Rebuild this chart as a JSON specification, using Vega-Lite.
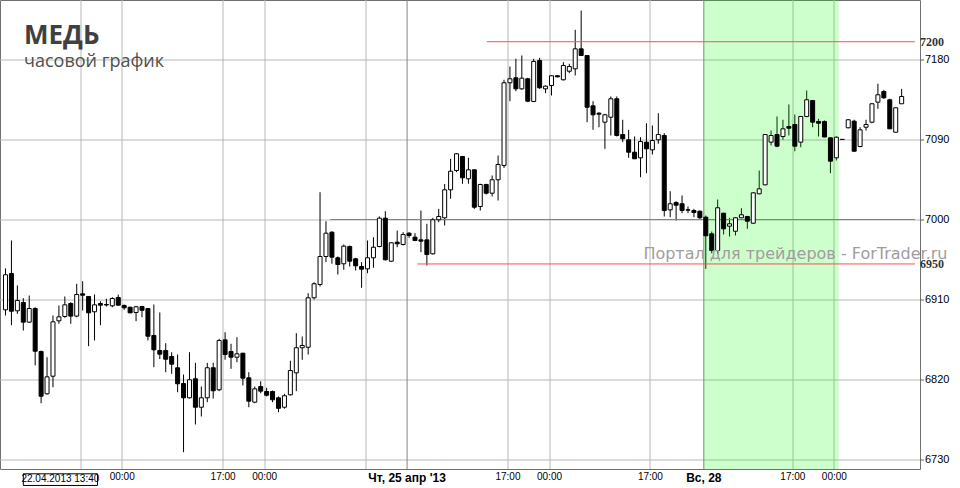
{
  "$schema": "https://vega.github.io/schema/vega-lite/v6.json",
  "width": 920,
  "height": 469,
  "autosize": {"type": "none"},
  "padding": {"left": 0, "top": 0, "right": 40, "bottom": 19},
  "background": "#ffffff",
  "config": {"view": {"stroke": "#707070", "strokeWidth": 1}, "font": "Liberation Sans"},
  "title": {
    "text": "МЕДЬ",
    "subtitle": "часовой график",
    "anchor": "start",
    "frame": "group",
    "orient": "top",
    "offset": -71,
    "dx": 24,
    "subtitlePadding": 4,
    "font": "Open Sans",
    "fontSize": 26,
    "fontWeight": "bold",
    "color": "#404040",
    "subtitleFont": "Open Sans",
    "subtitleFontSize": 18,
    "subtitleFontWeight": "normal",
    "subtitleColor": "#505050"
  },
  "datasets": {
    "session": [{"from": 116.667, "to": 139.4}],
    "days": [
      {"pos": 66.667, "label": "Чт, 25 апр '13"},
      {"pos": 116.667, "label": "Вс, 28"}
    ],
    "levels": [
      {"level": 7200, "from": 80.1},
      {"level": 7000, "from": 53.7},
      {"level": 6950, "from": 68.4}
    ],
    "candles": [
      {"i": -1, "o": 6898.4, "h": 6945, "l": 6892, "c": 6937.8},
      {"i": 0, "o": 6939.3, "h": 6976.4, "l": 6881.1, "c": 6896.8},
      {"i": 1, "o": 6897.3, "h": 6925.8, "l": 6893.9, "c": 6908.9},
      {"i": 2, "o": 6906.6, "h": 6911.5, "l": 6875.1, "c": 6884.5},
      {"i": 3, "o": 6884.5, "h": 6914.5, "l": 6884.0, "c": 6899.9},
      {"i": 4, "o": 6899.9, "h": 6901.3, "l": 6835.8, "c": 6851.8},
      {"i": 5, "o": 6851.5, "h": 6852.6, "l": 6793.3, "c": 6801.2},
      {"i": 6, "o": 6803.9, "h": 6845.1, "l": 6803.0, "c": 6823.0},
      {"i": 7, "o": 6823.7, "h": 6892.0, "l": 6811.3, "c": 6884.9},
      {"i": 8, "o": 6886.0, "h": 6903.3, "l": 6882.7, "c": 6890.5},
      {"i": 9, "o": 6890.9, "h": 6913.4, "l": 6889.4, "c": 6904.0},
      {"i": 10, "o": 6905.5, "h": 6907.0, "l": 6882.7, "c": 6891.3},
      {"i": 11, "o": 6891.3, "h": 6927.7, "l": 6890.0, "c": 6915.6},
      {"i": 12, "o": 6916.4, "h": 6930.6, "l": 6897.6, "c": 6914.8},
      {"i": 13, "o": 6913.4, "h": 6913.8, "l": 6857.5, "c": 6895.0},
      {"i": 14, "o": 6896.2, "h": 6915.6, "l": 6863.9, "c": 6904.0},
      {"i": 15, "o": 6905.5, "h": 6908.0, "l": 6881.1, "c": 6903.6},
      {"i": 16, "o": 6904.4, "h": 6910.8, "l": 6902.1, "c": 6903.8},
      {"i": 17, "o": 6902.9, "h": 6912.6, "l": 6901.3, "c": 6911.1},
      {"i": 18, "o": 6912.3, "h": 6915.6, "l": 6903.3, "c": 6903.6},
      {"i": 19, "o": 6903.3, "h": 6904.4, "l": 6898.4, "c": 6900.7},
      {"i": 20, "o": 6901.3, "h": 6901.8, "l": 6894.6, "c": 6895.0},
      {"i": 21, "o": 6895.4, "h": 6902.9, "l": 6885.6, "c": 6901.8},
      {"i": 22, "o": 6902.1, "h": 6902.9, "l": 6890.0, "c": 6897.9},
      {"i": 23, "o": 6899.9, "h": 6900.2, "l": 6863.9, "c": 6868.7},
      {"i": 24, "o": 6869.5, "h": 6904.4, "l": 6833.8, "c": 6853.4},
      {"i": 25, "o": 6852.6, "h": 6895.4, "l": 6843.0, "c": 6848.5},
      {"i": 26, "o": 6852.6, "h": 6860.8, "l": 6828.2, "c": 6842.8},
      {"i": 27, "o": 6845.9, "h": 6850.7, "l": 6826.4, "c": 6837.2},
      {"i": 28, "o": 6833.2, "h": 6848.1, "l": 6805.7, "c": 6815.2},
      {"i": 29, "o": 6815.5, "h": 6825.6, "l": 6738.2, "c": 6799.4},
      {"i": 30, "o": 6799.4, "h": 6850.7, "l": 6798.6, "c": 6819.7},
      {"i": 31, "o": 6820.8, "h": 6838.8, "l": 6769.4, "c": 6788.8},
      {"i": 32, "o": 6788.8, "h": 6812.1, "l": 6778.4, "c": 6799.4},
      {"i": 33, "o": 6799.4, "h": 6838.8, "l": 6794.5, "c": 6833.2},
      {"i": 34, "o": 6833.2, "h": 6838.8, "l": 6798.6, "c": 6807.3},
      {"i": 35, "o": 6808.4, "h": 6865.8, "l": 6806.9, "c": 6863.9},
      {"i": 36, "o": 6864.6, "h": 6873.2, "l": 6842.2, "c": 6848.1},
      {"i": 37, "o": 6851.5, "h": 6860.2, "l": 6832.0, "c": 6845.1},
      {"i": 38, "o": 6845.1, "h": 6867.6, "l": 6839.5, "c": 6848.9},
      {"i": 39, "o": 6849.6, "h": 6849.9, "l": 6813.3, "c": 6821.5},
      {"i": 40, "o": 6821.9, "h": 6828.2, "l": 6788.8, "c": 6795.6},
      {"i": 41, "o": 6794.5, "h": 6812.1, "l": 6793.3, "c": 6809.5},
      {"i": 42, "o": 6812.1, "h": 6818.0, "l": 6804.6, "c": 6806.9},
      {"i": 43, "o": 6806.5, "h": 6810.6, "l": 6800.9, "c": 6802.3},
      {"i": 44, "o": 6806.5, "h": 6807.6, "l": 6794.5, "c": 6797.2},
      {"i": 45, "o": 6799.4, "h": 6800.9, "l": 6783.2, "c": 6787.6},
      {"i": 46, "o": 6788.8, "h": 6803.9, "l": 6787.1, "c": 6801.7},
      {"i": 47, "o": 6802.8, "h": 6841.1, "l": 6802.0, "c": 6830.1},
      {"i": 48, "o": 6827.5, "h": 6872.1, "l": 6806.9, "c": 6855.7},
      {"i": 49, "o": 6855.7, "h": 6868.4, "l": 6842.2, "c": 6858.3},
      {"i": 50, "o": 6856.3, "h": 6917.1, "l": 6848.1, "c": 6911.9},
      {"i": 51, "o": 6911.9, "h": 6929.5, "l": 6910.0, "c": 6927.7},
      {"i": 52, "o": 6926.9, "h": 7030.7, "l": 6924.6, "c": 6958.4},
      {"i": 53, "o": 6958.4, "h": 6998.1, "l": 6952.0, "c": 6984.6},
      {"i": 54, "o": 6985.7, "h": 6986.8, "l": 6950.2, "c": 6957.6},
      {"i": 55, "o": 6956.9, "h": 6958.4, "l": 6938.1, "c": 6949.4},
      {"i": 56, "o": 6950.2, "h": 6971.9, "l": 6943.4, "c": 6970.0},
      {"i": 57, "o": 6969.6, "h": 6970.8, "l": 6947.1, "c": 6953.1},
      {"i": 58, "o": 6955.8, "h": 6956.9, "l": 6942.6, "c": 6947.9},
      {"i": 59, "o": 6947.1, "h": 6952.0, "l": 6923.2, "c": 6944.1},
      {"i": 60, "o": 6944.5, "h": 6976.4, "l": 6939.6, "c": 6956.9},
      {"i": 61, "o": 6956.9, "h": 6980.1, "l": 6945.7, "c": 6968.8},
      {"i": 62, "o": 6969.6, "h": 7003.4, "l": 6968.8, "c": 7001.5},
      {"i": 63, "o": 7001.5, "h": 7009.3, "l": 6953.9, "c": 6954.7},
      {"i": 64, "o": 6953.1, "h": 6974.5, "l": 6952.5, "c": 6973.8},
      {"i": 65, "o": 6974.5, "h": 6987.6, "l": 6968.8, "c": 6972.7},
      {"i": 66, "o": 6971.9, "h": 6985.7, "l": 6970.8, "c": 6983.1},
      {"i": 67, "o": 6984.6, "h": 6985.7, "l": 6979.4, "c": 6982.0},
      {"i": 68, "o": 6980.1, "h": 6984.6, "l": 6975.6, "c": 6976.4},
      {"i": 69, "o": 6977.1, "h": 7010.1, "l": 6963.2, "c": 6975.6},
      {"i": 70, "o": 6977.1, "h": 6995.2, "l": 6948.3, "c": 6960.6},
      {"i": 71, "o": 6961.4, "h": 7001.9, "l": 6960.6, "c": 6999.7},
      {"i": 72, "o": 6999.7, "h": 7012.0, "l": 6997.0, "c": 7003.4},
      {"i": 73, "o": 7001.9, "h": 7040.0, "l": 6993.3, "c": 7033.4},
      {"i": 74, "o": 7033.4, "h": 7068.3, "l": 7023.3, "c": 7054.3},
      {"i": 75, "o": 7055.1, "h": 7074.6, "l": 7053.2, "c": 7073.9},
      {"i": 76, "o": 7070.9, "h": 7071.5, "l": 7040.2, "c": 7046.9},
      {"i": 77, "o": 7045.8, "h": 7069.4, "l": 7040.2, "c": 7055.9},
      {"i": 78, "o": 7055.9, "h": 7056.5, "l": 7012.0, "c": 7013.8},
      {"i": 79, "o": 7014.6, "h": 7040.2, "l": 7010.1, "c": 7039.4},
      {"i": 80, "o": 7039.4, "h": 7040.2, "l": 7028.1, "c": 7029.6},
      {"i": 81, "o": 7029.6, "h": 7049.5, "l": 7025.9, "c": 7044.7},
      {"i": 82, "o": 7044.7, "h": 7072.0, "l": 7021.4, "c": 7061.9},
      {"i": 83, "o": 7060.8, "h": 7157.2, "l": 7058.0, "c": 7153.8},
      {"i": 84, "o": 7153.8, "h": 7172.1, "l": 7133.1, "c": 7158.3},
      {"i": 85, "o": 7159.4, "h": 7180.8, "l": 7144.3, "c": 7147.0},
      {"i": 86, "o": 7147.0, "h": 7184.5, "l": 7145.9, "c": 7159.0},
      {"i": 87, "o": 7158.3, "h": 7159.4, "l": 7132.0, "c": 7133.1},
      {"i": 88, "o": 7132.8, "h": 7180.8, "l": 7132.0, "c": 7177.8},
      {"i": 89, "o": 7178.9, "h": 7181.9, "l": 7147.0, "c": 7148.2},
      {"i": 90, "o": 7147.0, "h": 7150.8, "l": 7142.1, "c": 7150.0},
      {"i": 91, "o": 7150.8, "h": 7162.0, "l": 7139.5, "c": 7161.7},
      {"i": 92, "o": 7161.7, "h": 7162.2, "l": 7160.0, "c": 7160.5},
      {"i": 93, "o": 7157.2, "h": 7177.0, "l": 7156.4, "c": 7173.3},
      {"i": 94, "o": 7166.8, "h": 7175.2, "l": 7164.6, "c": 7172.1},
      {"i": 95, "o": 7169.5, "h": 7213.4, "l": 7162.0, "c": 7192.0},
      {"i": 96, "o": 7192.0, "h": 7235.1, "l": 7184.0, "c": 7184.5},
      {"i": 97, "o": 7184.5, "h": 7185.0, "l": 7109.5, "c": 7126.3},
      {"i": 98, "o": 7127.9, "h": 7133.1, "l": 7100.9, "c": 7117.8},
      {"i": 99, "o": 7119.6, "h": 7120.7, "l": 7103.8, "c": 7118.5},
      {"i": 100, "o": 7109.5, "h": 7118.9, "l": 7079.5, "c": 7117.8},
      {"i": 101, "o": 7115.1, "h": 7138.4, "l": 7094.5, "c": 7135.8},
      {"i": 102, "o": 7135.8, "h": 7138.4, "l": 7093.4, "c": 7094.5},
      {"i": 103, "o": 7095.6, "h": 7112.2, "l": 7087.0, "c": 7090.8},
      {"i": 104, "o": 7089.7, "h": 7100.9, "l": 7069.4, "c": 7075.7},
      {"i": 105, "o": 7075.7, "h": 7093.4, "l": 7068.0, "c": 7068.3},
      {"i": 106, "o": 7069.4, "h": 7092.6, "l": 7047.6, "c": 7087.8},
      {"i": 107, "o": 7087.0, "h": 7108.3, "l": 7052.1, "c": 7079.5},
      {"i": 108, "o": 7078.4, "h": 7105.8, "l": 7073.1, "c": 7088.9},
      {"i": 109, "o": 7089.7, "h": 7119.6, "l": 7085.2, "c": 7095.6},
      {"i": 110, "o": 7094.5, "h": 7097.1, "l": 7003.4, "c": 7010.1},
      {"i": 111, "o": 7010.9, "h": 7031.8, "l": 7002.6, "c": 7017.7},
      {"i": 112, "o": 7019.1, "h": 7020.6, "l": 6998.9, "c": 7016.1},
      {"i": 113, "o": 7017.7, "h": 7027.0, "l": 7007.1, "c": 7010.1},
      {"i": 114, "o": 7010.9, "h": 7014.6, "l": 7007.1, "c": 7010.5},
      {"i": 115, "o": 7010.1, "h": 7012.0, "l": 7002.6, "c": 7007.9},
      {"i": 116, "o": 7009.3, "h": 7010.1, "l": 7000.8, "c": 7001.9},
      {"i": 117, "o": 7002.6, "h": 7004.5, "l": 6944.5, "c": 6981.7},
      {"i": 118, "o": 6983.9, "h": 6986.5, "l": 6962.0, "c": 6965.1},
      {"i": 119, "o": 6965.1, "h": 7022.5, "l": 6961.4, "c": 7013.2},
      {"i": 120, "o": 7007.1, "h": 7007.5, "l": 6983.1, "c": 6989.5},
      {"i": 121, "o": 6992.5, "h": 7001.9, "l": 6980.9, "c": 6995.2},
      {"i": 122, "o": 6986.8, "h": 7002.6, "l": 6982.0, "c": 7001.9},
      {"i": 123, "o": 7001.9, "h": 7012.7, "l": 7001.5, "c": 7005.3},
      {"i": 124, "o": 7003.4, "h": 7004.1, "l": 6989.5, "c": 6998.1},
      {"i": 125, "o": 6995.8, "h": 7030.7, "l": 6995.2, "c": 7030.0},
      {"i": 126, "o": 7028.9, "h": 7055.1, "l": 7028.5, "c": 7034.5},
      {"i": 127, "o": 7039.0, "h": 7095.8, "l": 7038.5, "c": 7095.6},
      {"i": 128, "o": 7087.0, "h": 7100.1, "l": 7083.3, "c": 7094.5},
      {"i": 129, "o": 7095.6, "h": 7115.9, "l": 7081.3, "c": 7082.5},
      {"i": 130, "o": 7093.4, "h": 7112.2, "l": 7089.7, "c": 7102.0},
      {"i": 131, "o": 7104.6, "h": 7129.4, "l": 7094.5, "c": 7102.7},
      {"i": 132, "o": 7106.9, "h": 7118.1, "l": 7076.8, "c": 7082.5},
      {"i": 133, "o": 7087.0, "h": 7116.2, "l": 7081.3, "c": 7115.9},
      {"i": 134, "o": 7115.9, "h": 7145.1, "l": 7115.1, "c": 7134.7},
      {"i": 135, "o": 7133.9, "h": 7134.3, "l": 7103.8, "c": 7109.5},
      {"i": 136, "o": 7110.3, "h": 7113.3, "l": 7093.4, "c": 7108.3},
      {"i": 137, "o": 7110.3, "h": 7111.4, "l": 7092.6, "c": 7092.8},
      {"i": 138, "o": 7091.9, "h": 7092.6, "l": 7052.1, "c": 7065.6},
      {"i": 139, "o": 7069.4, "h": 7093.4, "l": 7066.4, "c": 7092.6},
      {"i": 140, "o": 7090.0, "h": 7090.4, "l": 7089.6, "c": 7090.2},
      {"i": 141, "o": 7103.2, "h": 7113.0, "l": 7102.5, "c": 7112.2},
      {"i": 142, "o": 7110.6, "h": 7112.2, "l": 7076.5, "c": 7076.8},
      {"i": 143, "o": 7082.1, "h": 7103.8, "l": 7081.3, "c": 7100.9},
      {"i": 144, "o": 7103.8, "h": 7112.2, "l": 7100.1, "c": 7106.9},
      {"i": 145, "o": 7109.5, "h": 7130.8, "l": 7108.3, "c": 7130.2},
      {"i": 146, "o": 7132.0, "h": 7152.7, "l": 7124.5, "c": 7140.3},
      {"i": 147, "o": 7144.0, "h": 7145.9, "l": 7135.8, "c": 7136.9},
      {"i": 148, "o": 7134.7, "h": 7135.8, "l": 7102.0, "c": 7102.0},
      {"i": 149, "o": 7098.2, "h": 7125.7, "l": 7098.2, "c": 7125.7},
      {"i": 150, "o": 7130.2, "h": 7147.0, "l": 7130.2, "c": 7138.4}
    ]
  },
  "layer": [
    {
      "data": {"name": "candles"},
      "mark": {"type": "rule", "color": "#000000", "strokeWidth": 1},
      "encoding": {
        "x": {
          "field": "i", "type": "quantitative",
          "scale": {"domain": [-1.0833, 152.25], "nice": false, "zero": false},
          "axis": {
            "title": null,
            "orient": "bottom",
            "values": [11.667, 18.667, 35.667, 42.667, 59.667, 83.667, 90.667, 107.667, 131.667, 138.667],
            "domain": false,
            "ticks": false,
            "translate": 0,
            "grid": true,
            "gridColor": "#b8b8b8",
            "labelPadding": 3,
            "labelOverlap": false,
            "labelFlush": false,
            "labelFont": "Liberation Sans",
            "labelFontSize": 10,
            "labelColor": "#000000",
            "labelExpr": "(datum.value < 12 || (datum.value > 59 && datum.value < 60)) ? '' : (datum.value < 19 || (datum.value > 42 && datum.value < 43) || (datum.value > 90 && datum.value < 91) || datum.value > 138) ? '00:00' : '17:00'"
          }
        },
        "y": {
          "field": "l", "type": "quantitative",
          "scale": {"domain": [6719.3125, 7246.9375], "nice": false, "zero": false},
          "axis": {
            "title": null,
            "orient": "right",
            "values": [6730, 6820, 6910, 7000, 7090, 7180],
            "format": "d",
            "domain": false,
            "translate": 0,
            "grid": true,
            "gridColor": "#b8b8b8",
            "tickSize": 4,
            "tickColor": "#606060",
            "labelPadding": 1,
            "labelOverlap": false,
            "labelFlush": false,
            "labelBaseline": "middle",
            "labelFont": "Liberation Sans",
            "labelFontSize": 11,
            "labelColor": "#000000"
          }
        },
        "y2": {"field": "h"}
      }
    },
    {
      "data": {"name": "days"},
      "mark": {"type": "rule", "color": "#848484", "strokeWidth": 1},
      "encoding": {
        "x": {"field": "pos", "type": "quantitative"}
      }
    },
    {
      "data": {"name": "session"},
      "mark": {"type": "rect", "fill": "#00ff00", "opacity": 0.2},
      "encoding": {
        "x": {"field": "from", "type": "quantitative"},
        "x2": {"field": "to"}
      }
    },
    {
      "data": {"name": "levels"},
      "mark": {"type": "rule", "color": "#ff4d4d", "strokeWidth": 1},
      "encoding": {
        "x": {"field": "from", "type": "quantitative"},
        "x2": {"datum": 152.25},
        "y": {"field": "level", "type": "quantitative"}
      }
    },
    {
      "data": {"name": "candles"},
      "mark": {"type": "bar", "size": 4, "stroke": "#000000", "strokeWidth": 1},
      "encoding": {
        "x": {"field": "i", "type": "quantitative"},
        "y": {"field": "o", "type": "quantitative"},
        "y2": {"field": "c"},
        "fill": {"condition": {"test": "datum.c < datum.o", "value": "#000000"}, "value": "#ffffff"}
      }
    },
    {
      "data": {"name": "levels"},
      "transform": [{"filter": "datum.level != 7000"}],
      "mark": {"type": "text", "font": "Liberation Serif", "fontWeight": "bold", "fontSize": 12, "fill": "#333333", "align": "left", "baseline": "middle", "dx": 5},
      "encoding": {
        "text": {"field": "level", "type": "quantitative", "format": "d"},
        "x": {"datum": 152.25, "type": "quantitative"},
        "y": {"field": "level", "type": "quantitative"}
      }
    },
    {
      "data": {"name": "days"},
      "mark": {"type": "text", "font": "Liberation Sans", "fontWeight": "bold", "fontSize": 12, "fill": "#000000", "align": "center", "baseline": "middle"},
      "encoding": {
        "text": {"field": "label"},
        "x": {"field": "pos", "type": "quantitative"},
        "y": {"datum": 6709.4, "type": "quantitative"}
      }
    },
    {
      "data": {"values": [{"label": "22.04.2013 13:40"}]},
      "mark": {"type": "rect", "fillOpacity": 0, "stroke": "#000000", "strokeWidth": 1},
      "encoding": {
        "x": {"datum": 2.0, "type": "quantitative"},
        "x2": {"datum": 14.5},
        "y": {"datum": 6713.9, "type": "quantitative"},
        "y2": {"datum": 6700.8}
      }
    },
    {
      "data": {"values": [{"label": "22.04.2013 13:40"}]},
      "mark": {"type": "text", "font": "Liberation Sans", "fontSize": 10, "fill": "#000000", "align": "center", "baseline": "middle"},
      "encoding": {
        "text": {"field": "label"},
        "x": {"datum": 8.25, "type": "quantitative"},
        "y": {"datum": 6707.6, "type": "quantitative"}
      }
    },
    {
      "data": {"values": [{"label": "Портал для трейдеров - ForTrader.ru"}]},
      "mark": {"type": "text", "font": "DejaVu Sans", "fontSize": 16, "fill": "#a39c9c", "align": "center", "baseline": "alphabetic"},
      "encoding": {
        "text": {"field": "label"},
        "x": {"datum": 132.1, "type": "quantitative"},
        "y": {"datum": 6955.5, "type": "quantitative"}
      }
    }
  ]
}
